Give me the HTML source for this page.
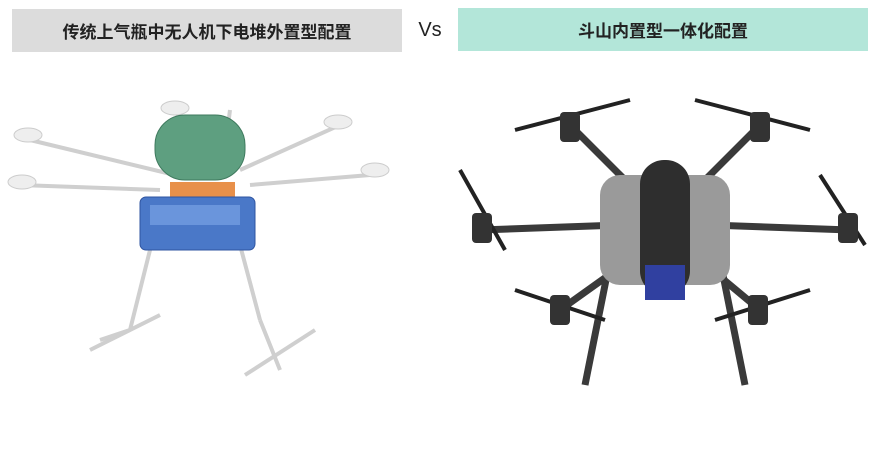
<!DOCTYPE html>
<html><head><meta charset="utf-8"><style>
body{margin:0;width:884px;height:450px;background:#fff;position:relative;overflow:hidden;font-family:"Liberation Sans","Noto Sans CJK SC",sans-serif}
.b{position:absolute;display:flex;align-items:center;justify-content:center;font-size:17px;font-weight:bold;color:#222}
</style></head><body>
<div class="b" style="left:12px;top:9px;width:390px;height:43px;background:#dcdcdc">传统上气瓶中无人机下电堆外置型配置</div>
<div class="b" style="left:410px;top:9px;width:40px;height:43px;font-weight:normal;font-size:20px">Vs</div>
<div class="b" style="left:458px;top:8px;width:410px;height:43px;background:#b3e6d9">斗山内置型一体化配置</div>
<svg width="884" height="450" style="position:absolute;left:0;top:0">
<g stroke="#cfcfcf" stroke-width="4" fill="none">
<line x1="30" y1="140" x2="175" y2="175"/><line x1="20" y1="185" x2="160" y2="190"/>
<line x1="175" y1="110" x2="200" y2="160"/><line x1="340" y1="125" x2="240" y2="170"/>
<line x1="370" y1="175" x2="250" y2="185"/><line x1="230" y1="110" x2="225" y2="150"/>
<line x1="150" y1="250" x2="130" y2="330"/><line x1="240" y1="245" x2="260" y2="320"/>
<line x1="90" y1="350" x2="160" y2="315"/><line x1="245" y1="375" x2="315" y2="330"/>
<line x1="130" y1="330" x2="100" y2="340"/><line x1="260" y1="320" x2="280" y2="370"/>
</g>
<g fill="#eee" stroke="#ccc"><ellipse cx="28" cy="135" rx="14" ry="7"/><ellipse cx="22" cy="182" rx="14" ry="7"/><ellipse cx="175" cy="108" rx="14" ry="7"/><ellipse cx="338" cy="122" rx="14" ry="7"/><ellipse cx="375" cy="170" rx="14" ry="7"/></g>
<rect x="155" y="115" width="90" height="65" rx="30" fill="#5e9f80" stroke="#3f7a5e"/>
<rect x="170" y="182" width="65" height="22" fill="#e8904a"/>
<rect x="140" y="197" width="115" height="53" rx="6" fill="#4a78c8" stroke="#2f54a0"/>
<rect x="150" y="205" width="90" height="20" fill="#6a95dc"/>
<g stroke="#3a3a3a" stroke-width="7" fill="none">
<line x1="645" y1="200" x2="570" y2="125"/><line x1="685" y1="200" x2="760" y2="125"/>
<line x1="620" y1="225" x2="480" y2="230"/><line x1="710" y1="225" x2="850" y2="230"/>
<line x1="630" y1="260" x2="560" y2="310"/><line x1="700" y1="260" x2="760" y2="310"/>
<line x1="610" y1="260" x2="585" y2="385"/><line x1="720" y1="260" x2="745" y2="385"/>
</g>
<g stroke="#222" stroke-width="4"><line x1="515" y1="130" x2="630" y2="100"/><line x1="695" y1="100" x2="810" y2="130"/><line x1="460" y1="170" x2="505" y2="250"/><line x1="820" y1="175" x2="865" y2="245"/><line x1="515" y1="290" x2="605" y2="320"/><line x1="715" y1="320" x2="810" y2="290"/></g>
<g fill="#333"><rect x="560" y="112" width="20" height="30" rx="4"/><rect x="750" y="112" width="20" height="30" rx="4"/><rect x="472" y="213" width="20" height="30" rx="4"/><rect x="838" y="213" width="20" height="30" rx="4"/><rect x="550" y="295" width="20" height="30" rx="4"/><rect x="748" y="295" width="20" height="30" rx="4"/></g>
<rect x="600" y="175" width="130" height="110" rx="20" fill="#9a9a9a"/>
<rect x="640" y="160" width="50" height="135" rx="24" fill="#2e2e2e"/>
<rect x="645" y="265" width="40" height="35" fill="#3040a0"/>
</svg>
</body></html>
